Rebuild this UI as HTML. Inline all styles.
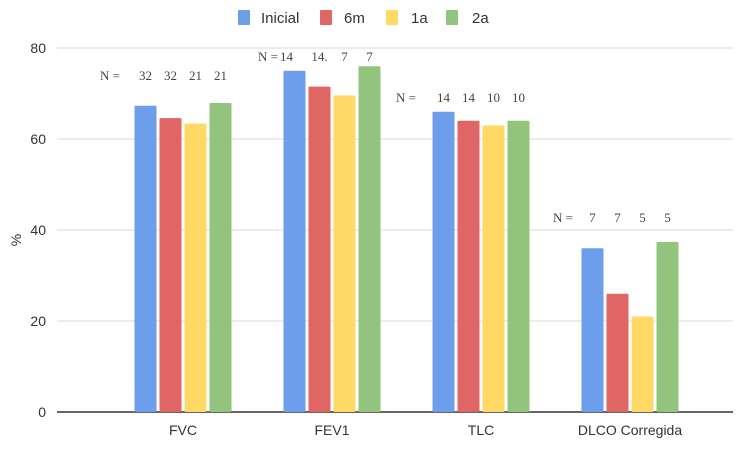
<!DOCTYPE html>
<html><head><meta charset="utf-8"><style>
body{margin:0;background:#fff;width:750px;height:454px;overflow:hidden}
svg{font-family:"Liberation Sans",sans-serif}
.n{font-family:"Liberation Serif",serif;font-size:13px;fill:#444}
</style></head><body>
<svg id="c" width="750" height="454"></svg>
<script>
const categories=["FVC","FEV1","TLC","DLCO Corregida"];
const seriesNames=["Inicial","6m","1a","2a"];
const colors=["#6d9eeb","#e06666","#ffd966","#93c47d"];
const inicial=[67.3,75,66,36];
const m6=[64.6,71.5,64,26];
const a1=[63.4,69.6,63,21];
const a2=[67.9,76,64,37.4];
const yTicks=[0,20,40,60,80];
const nCounts=[["32","32","21","21"],["14","14.","7","7"],["14","14","10","10"],["7","7","5","5"]];
const nPrefixX=[100,258,396,553];
const nLabelY=[80,61,102,222];
const series=[inicial,m6,a1,a2];
const svg=document.getElementById('c');
const NS="http://www.w3.org/2000/svg";
function y(v){return 412-v*(364/80);}
function bandStart(i){return 108.5+i*149;}
function mk(t,a,txt){const e=document.createElementNS(NS,t);for(const k in a)e.setAttribute(k,a[k]);if(txt!=null)e.textContent=txt;svg.appendChild(e);return e;}
yTicks.forEach(t=>{
 const g=mk('line',{x1:57,x2:733,y1:y(t),y2:y(t),stroke:t===0?'#333':'#d9d9d9','stroke-width':t===0?1.5:1});
 
 
 const l=mk('text',{x:46,y:y(t)+5,'text-anchor':'end','font-size':14,fill:'#333'},t);
 
 
});
const yt=mk('text',{x:21,y:240,'text-anchor':'middle','font-size':14,fill:'#333',transform:'rotate(-90 21 240)'},'%');


const bw=22,gap=3;
categories.forEach((c,i)=>{
 const cx=bandStart(i)+74.5;
 const x0=cx-(4*bw+3*gap)/2;
 const slug=c.toLowerCase().replace(/ /g,'-');
 series.forEach((s,j)=>{
  const r=mk('rect',{x:x0+j*(bw+gap),y:y(s[i]),width:bw,height:y(0)-y(s[i]),fill:colors[j],rx:1});
  
  
  const nt=mk('text',{x:x0+j*(bw+gap)+bw/2-(i===1&&j===0?8:0),y:nLabelY[i],class:'n','text-anchor':'middle'},nCounts[i][j]);
  
  
 });
 const t=mk('text',{x:cx,y:435,'text-anchor':'middle','font-size':14,fill:'#333'},c);
 
 
 const n=mk('text',{x:nPrefixX[i],y:nLabelY[i],class:'n'},'N =');
 
 
});
const legSq=[238,320,386,446],legTx=[261,344,411,472];
seriesNames.forEach((s,j)=>{
 const r=mk('rect',{x:legSq[j],y:10,width:12,height:15,fill:colors[j],rx:1});
 
 
 const t=mk('text',{x:legTx[j],y:23,'font-size':15,fill:'#333'},s);
 
 
});
</script>
</body></html>
